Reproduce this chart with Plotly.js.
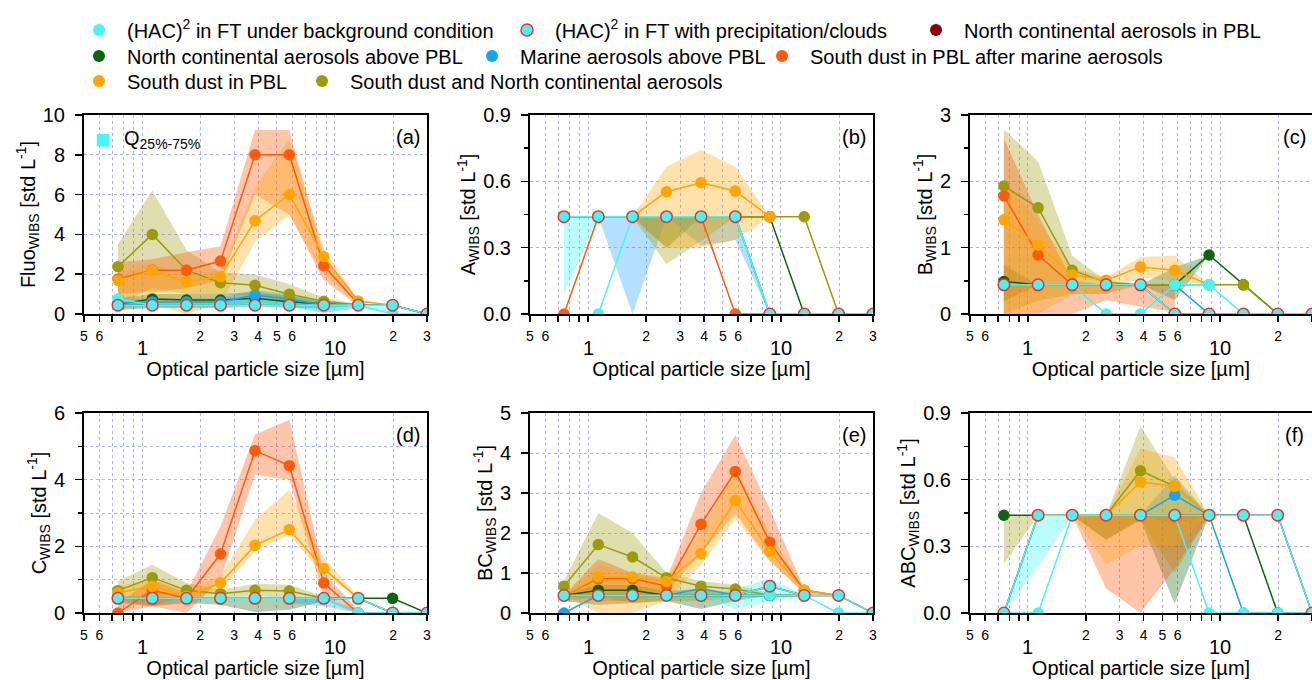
<!DOCTYPE html>
<html><head><meta charset="utf-8">
<script src="https://cdn.plot.ly/plotly-3.0.1.min.js"></script>
<style>html,body{margin:0;padding:0;background:#fff}#chart{width:1312px;height:680px}</style>
</head><body><div id="chart"></div>
<script>
// ---------- shared axis data ----------
const sizes = [0.75, 1.13, 1.7, 2.55, 3.85, 5.8, 8.75, 13.2, 19.9, 30];
const tickVals = [0.5,0.6,2,3,4,5,6,20,30];
const tickText = ["5","6","2","3","4","5","6","2","3"];
const minorTickVals = [0.7,0.8,0.9,1,7,8,9,10];
const bigTicks = [1, 10];
const bigTickText = ["1", "10"];

// series keys (legend order) and names
const legendKeys = ["bg","pc","ncp","nca","mar","sdm","sd","sdn"];
const legendNames = [
  "(HAC)<sup>2</sup> in FT under background condition",
  "(HAC)<sup>2</sup> in FT with precipitation/clouds",
  "North continental aerosols in PBL",
  "North continental aerosols above PBL",
  "Marine aerosols above PBL",
  "South dust in PBL after marine aerosols",
  "South dust in PBL",
  "South dust and North continental aerosols"
];

// ---------- (a) Fluo ----------
const fluo_bg  = [0.75,0.44,0.44,0.44,0.44,0.44,0.44,0.44,0,0];
const fluo_bg_q25 = [0.35,0.3,0.3,0.3,0.35,0.3,0.05,0.3,0,null];
const fluo_bg_q75 = [0.8,0.6,0.6,0.6,0.75,0.6,0.5,0.5,0.44,null];
const fluo_pc  = [0.44,0.44,0.44,0.44,0.44,0.44,0.44,0.44,0.44,0];
const fluo_ncp = [0.44,0.44,0.44,0.44,0.44,0.44,0.44,0.44,0.44,0];
const fluo_nca = [0.5,0.75,0.7,0.7,0.79,0.62,0.5,0.44,0.44,0];
const fluo_nca_q25 = [0.2,0.3,0.3,0.3,0.4,0.3,0.3,0.4,null,null];
const fluo_nca_q75 = [0.8,1.0,1.0,1.0,1.1,0.9,0.6,0.5,null,null];
const fluo_mar = [0.55,0.6,0.6,0.6,0.95,0.75,0.44,0.44,0.44,0];
const fluo_mar_q25 = [0.3,0.35,0.35,0.35,0.6,0.4,0.05,0.3,null,null];
const fluo_mar_q75 = [0.8,0.8,0.8,0.8,1.2,1.0,0.6,0.5,null,null];
const fluo_sdm = [1.76,2.2,2.2,2.66,8.0,8.0,2.43,0.5,null,null];
const fluo_sdm_q25 = [1.0,1.1,1.3,1.7,6.0,5.0,1.7,0.4,null,null];
const fluo_sdm_q75 = [2.6,2.75,3.1,3.4,9.25,9.25,2.95,0.6,null,null];
const fluo_sd  = [1.69,2.18,1.61,1.88,4.69,6.01,2.88,0.65,0.44,null];
const fluo_sd_q25 = [0.2,0.5,0,0.5,3.6,5.0,2.0,0.6,0.44,null];
const fluo_sd_q75 = [2.0,2.5,2.0,2.2,6.4,8.8,3.3,0.7,0.44,null];
const fluo_sdn = [2.38,4.0,2.2,1.57,1.44,0.99,0.64,0.45,null,null];
const fluo_sdn_q25 = [0.5,1.3,1.0,1.0,0.9,0.5,0.45,0.4,null,null];
const fluo_sdn_q75 = [3.5,6.2,3.2,2.1,2.0,1.5,0.8,0.5,null,null];

// ---------- (b) A ----------
const a_bg  = [null,0,0.44,0.44,0.44,0.44,0,0,0,0];
const a_pc  = [0.44,0.44,0.44,0.44,0.44,0.44,0,0,0,0];
const a_pc_q25 = [0.09,0.44,null,null,null,null,null,null,null,null];
const a_pc_q75 = [0.44,0.44,null,null,null,null,null,null,null,null];
const a_ncp = [0.44,0.44,0.44,0.44,0.44,0.44,0,0,0,0];
const a_nca = [0.44,0.44,0.44,0.44,0.44,0.44,0.44,0,0,0];
const a_nca_q25 = [null,null,0.44,0.3,0.44,0.44,0.44,null,null,null];
const a_nca_q75 = [null,null,0.44,0.44,0.44,0.44,0.44,null,null,null];
const a_mar = [null,0.44,0.44,0.44,0.44,0.44,0,0,0,0];
const a_mar_q25 = [null,0.44,0,0.44,0.31,0.335,0,null,null,null];
const a_mar_q75 = [null,0.44,0.44,0.44,0.44,0.44,0,null,null,null];
const a_sdm = [0,0.44,0.44,0.44,0.44,0,0,0,0,0];
const a_sd  = [0.44,0.44,0.44,0.553,0.594,0.556,0.44,null,null,null];
const a_sd_q25 = [null,null,0.44,0.3,0.3,0.335,0.44,null,null,null];
const a_sd_q75 = [null,null,0.44,0.666,0.742,0.666,0.44,null,null,null];
const a_sdn = [0.44,0.44,0.44,0.44,0.44,0.44,0.44,0.44,0,0];
const a_sdn_q25 = [null,null,0.44,0.226,0.33,0.44,0.44,null,null,null];
const a_sdn_q75 = [null,null,0.44,0.44,0.44,0.44,0.44,null,null,null];

// ---------- (c) B ----------
const b_bg  = [0.44,0.44,0.44,0,0,0.44,0.44,0,0,0];
const b_pc  = [0.44,0.44,0.44,0.44,0.44,0,0,0,0,0];
const b_ncp = [0.44,0.44,0.44,0.44,0.44,0,0,0,0,0];
const b_nca = [0.49,0.44,0.44,0.44,0.44,0.44,0.89,0.44,0,0];
const b_nca_q25 = [0.19,0.44,0.44,0.44,0.44,0.21,0.89,null,null,null];
const b_nca_q75 = [0.74,0.44,0.44,0.44,0.44,0.7,0.89,null,null,null];
const b_mar = [0.44,0.44,0.44,0.44,0.44,0.44,0,0,0,0];
const b_sdm = [1.78,0.89,0.44,0.44,0.44,0,0,0,0,0];
const b_sdm_q25 = [0,0,0,0.21,0.11,0.035,null,null,null,null];
const b_sdm_q75 = [2.65,1.5,0.5,0.44,0.44,0.44,null,null,null,null];
const b_sd  = [1.42,1.04,0.59,0.51,0.71,0.66,0.44,null,null,null];
const b_sd_q25 = [0,0,0.3,0.3,0.55,0.5,0.44,null,null,null];
const b_sd_q75 = [2.0,1.4,0.7,0.55,0.86,0.88,0.44,null,null,null];
const b_sdn = [1.93,1.6,0.66,0.48,0.44,0.44,0.44,0.44,0,0];
const b_sdn_q25 = [0,0.2,0.3,0.3,0.44,0.44,0.44,null,null,null];
const b_sdn_q75 = [2.78,2.3,0.88,0.5,0.44,0.44,0.44,null,null,null];

// ---------- (d) C ----------
const c_bg  = [0.44,0.44,0.44,0.44,0.44,0.44,0.44,0,0,0];
const c_pc  = [0.44,0.44,0.44,0.44,0.44,0.44,0.44,0.44,0,0];
const c_ncp = [0.44,0.44,0.44,0.44,0.44,0.44,0.44,0.44,0,0];
const c_nca = [0.44,0.44,0.44,0.44,0.44,0.44,0.44,0.44,0.44,0];
const c_nca_q25 = [0.3,0.2,0.3,0.25,0.03,0.1,0.35,0.44,null,null];
const c_nca_q75 = [0.5,0.5,0.44,0.44,0.44,0.44,0.44,0.44,null,null];
const c_mar = [0.44,0.44,0.44,0.44,0.44,0.44,0.44,0,0,0];
const c_mar_q25 = [null,null,null,null,null,0.3,0.2,0,null,null];
const c_mar_q75 = [null,null,null,null,null,0.44,0.44,0.1,null,null];
const c_sdm = [0,0.68,0.44,1.77,4.87,4.42,0.9,0,null,null];
const c_sdm_q25 = [0,0.2,0,1.0,4.15,4.0,0.5,0,null,null];
const c_sdm_q75 = [0.3,1.0,0.6,2.6,5.35,5.8,1.2,0.1,null,null];
const c_sd  = [0.6,0.8,0.5,0.9,2.03,2.5,1.33,0.44,null,null];
const c_sd_q25 = [0.4,0.5,0.4,0.7,1.85,2.35,1.15,0.44,null,null];
const c_sd_q75 = [0.8,1.0,0.7,1.1,2.8,3.7,1.65,0.5,null,null];
const c_sdn = [0.67,1.06,0.68,0.58,0.68,0.66,0.44,null,null,null];
const c_sdn_q25 = [0.4,0.2,0.5,0.45,0.5,0.45,0.4,null,null,null];
const c_sdn_q75 = [0.95,1.45,0.9,0.7,0.88,0.85,0.5,null,null,null];

// ---------- (e) BC ----------
const bc_bg  = [0.44,0.44,0.44,0.44,0.44,0.44,0.45,0.44,0,0];
const bc_bg_q25 = [null,null,null,null,0.44,0.1,0.3,0.44,null,null];
const bc_bg_q75 = [null,null,null,null,0.44,0.6,0.87,0.44,null,null];
const bc_pc  = [0.44,0.44,0.44,0.44,0.44,0.44,0.67,0.44,0.44,0];
const bc_ncp = [0.44,0.44,0.44,0.44,0.44,0.44,0.67,0.44,0.44,0];
const bc_nca = [0.44,0.57,0.57,0.44,0.44,0.44,0.44,0.44,null,null];
const bc_nca_q25 = [0.3,0.2,0.25,0.3,0.1,0.3,0.44,null,null,null];
const bc_nca_q75 = [0.5,0.7,0.7,0.55,0.6,0.5,0.44,null,null,null];
const bc_mar = [0,0.44,0.44,0.44,0.61,0.44,0.44,0.44,null,null];
const bc_sdm = [0.44,0.86,0.86,0.67,2.22,3.54,1.77,0.57,0.44,null];
const bc_sdm_q25 = [0.44,0.3,0.3,0.5,1.5,2.5,1.3,0.5,0.44,null];
const bc_sdm_q75 = [0.44,1.35,1.0,0.85,3.0,4.45,2.6,0.6,0.44,null];
const bc_sd  = [0.44,0.9,0.9,0.79,1.48,2.81,1.54,0.57,0.44,null];
const bc_sd_q25 = [0.44,0,0,0.3,1.2,2.35,1.3,0.5,0.44,null];
const bc_sd_q75 = [0.44,1.2,1.0,0.9,2.0,3.6,2.0,0.6,0.44,null];
const bc_sdn = [0.67,1.71,1.4,0.88,0.67,0.6,0.44,0.44,null,null];
const bc_sdn_q25 = [0.3,0.4,0.25,0.3,0.3,0.4,0.4,0.44,null,null];
const bc_sdn_q75 = [0.8,2.5,2.0,1.0,0.8,0.7,0.5,0.44,null,null];

// ---------- (f) ABC ----------
const abc_bg  = [0,0,0.44,0.44,0.44,0.44,0,0,0,0];
const abc_pc  = [0,0.44,0.44,0.44,0.44,0.44,0.44,0.44,0.44,0];
const abc_pc_q25 = [0,0.21,0.44,null,null,null,null,null,null,null];
const abc_pc_q75 = [0.015,0.44,0.44,null,null,null,null,null,null,null];
const abc_ncp = [0,0.44,0.44,0.44,0.44,0.44,0.44,0.44,0.44,0];
const abc_nca = [0.44,0.44,0.44,0.44,0.44,0.44,0.44,0.44,0,0];
const abc_nca_q25 = [null,null,0.44,0.33,0.42,0.04,0.44,null,null,null];
const abc_nca_q75 = [null,null,0.44,0.44,0.44,0.44,0.44,null,null,null];
const abc_mar = [null,null,0.44,0.44,0.44,0.53,0.44,0,0,0];
const abc_mar_q25 = [null,null,null,null,0.44,0.4,0.44,null,null,null];
const abc_mar_q75 = [null,null,null,null,0.44,0.62,0.44,null,null,null];
const abc_sdm = [null,0.44,0.44,0.44,0.44,0.44,0.44,null,null,null];
const abc_sdm_q25 = [null,null,0.44,0.11,0,0.2,0.44,null,null,null];
const abc_sdm_q75 = [null,null,0.44,0.44,0.44,0.44,0.44,null,null,null];
const abc_sd  = [null,0.44,0.44,0.44,0.59,0.57,0.44,null,null,null];
const abc_sd_q25 = [null,null,0.44,0.22,0.3,0.3,0.44,null,null,null];
const abc_sd_q75 = [null,null,0.44,0.44,0.74,0.7,0.44,null,null,null];
const abc_sdn = [null,0.44,0.44,0.44,0.64,0.57,0.44,null,null,null];
const abc_sdn_q25 = [0.22,0.44,0.44,0.33,0.42,0.18,0.44,null,null,null];
const abc_sdn_q75 = [0.44,0.44,0.44,0.44,0.84,0.6,0.44,null,null,null];

// ---------- panel meta ----------
const panelLabels = ["(a)","(b)","(c)","(d)","(e)","(f)"];
const yTitles = [
  "Fluo<sub>WIBS</sub> [std L<sup>-1</sup>]",
  "A<sub>WIBS</sub> [std L<sup>-1</sup>]",
  "B<sub>WIBS</sub> [std L<sup>-1</sup>]",
  "C<sub>WIBS</sub> [std L<sup>-1</sup>]",
  "BC<sub>WIBS</sub> [std L<sup>-1</sup>]",
  "ABC<sub>WIBS</sub> [std L<sup>-1</sup>]"
];
const yRanges = [[0,10],[0,0.9],[0,3],[0,6],[0,5],[0,0.9]];
const yDticks = [2,0.3,1,2,1,0.3];
const yMinorDticks = [null,0.15,0.5,1,null,0.15];
const yFormats = ["",".1f","","","",".1f"];

const panelData = [
  {bg:[fluo_bg,fluo_bg_q25,fluo_bg_q75], pc:[fluo_pc], ncp:[fluo_ncp], nca:[fluo_nca,fluo_nca_q25,fluo_nca_q75], mar:[fluo_mar,fluo_mar_q25,fluo_mar_q75], sdm:[fluo_sdm,fluo_sdm_q25,fluo_sdm_q75], sd:[fluo_sd,fluo_sd_q25,fluo_sd_q75], sdn:[fluo_sdn,fluo_sdn_q25,fluo_sdn_q75]},
  {bg:[a_bg], pc:[a_pc,a_pc_q25,a_pc_q75], ncp:[a_ncp], nca:[a_nca,a_nca_q25,a_nca_q75], mar:[a_mar,a_mar_q25,a_mar_q75], sdm:[a_sdm], sd:[a_sd,a_sd_q25,a_sd_q75], sdn:[a_sdn,a_sdn_q25,a_sdn_q75]},
  {bg:[b_bg], pc:[b_pc], ncp:[b_ncp], nca:[b_nca,b_nca_q25,b_nca_q75], mar:[b_mar], sdm:[b_sdm,b_sdm_q25,b_sdm_q75], sd:[b_sd,b_sd_q25,b_sd_q75], sdn:[b_sdn,b_sdn_q25,b_sdn_q75]},
  {bg:[c_bg], pc:[c_pc], ncp:[c_ncp], nca:[c_nca,c_nca_q25,c_nca_q75], mar:[c_mar,c_mar_q25,c_mar_q75], sdm:[c_sdm,c_sdm_q25,c_sdm_q75], sd:[c_sd,c_sd_q25,c_sd_q75], sdn:[c_sdn,c_sdn_q25,c_sdn_q75]},
  {bg:[bc_bg,bc_bg_q25,bc_bg_q75], pc:[bc_pc], ncp:[bc_ncp], nca:[bc_nca,bc_nca_q25,bc_nca_q75], mar:[bc_mar], sdm:[bc_sdm,bc_sdm_q25,bc_sdm_q75], sd:[bc_sd,bc_sd_q25,bc_sd_q75], sdn:[bc_sdn,bc_sdn_q25,bc_sdn_q75]},
  {bg:[abc_bg], pc:[abc_pc,abc_pc_q25,abc_pc_q75], ncp:[abc_ncp], nca:[abc_nca,abc_nca_q25,abc_nca_q75], mar:[abc_mar,abc_mar_q25,abc_mar_q75], sdm:[abc_sdm,abc_sdm_q25,abc_sdm_q75], sd:[abc_sd,abc_sd_q25,abc_sd_q75], sdn:[abc_sdn,abc_sdn_q25,abc_sdn_q75]}
];

// ---------- styles ----------
const lineColor = {bg:"#44F6F6", pc:"#44F6F6", ncp:"#8B0000", nca:"#0B640F", mar:"#12A6F5", sdm:"#FF5A0A", sd:"#FFA500", sdn:"#9C9C08"};
const bandColor = {bg:"rgba(60,245,245,0.35)", pc:"rgba(60,245,245,0.35)", ncp:"rgba(139,0,0,0.3)", nca:"rgba(11,100,15,0.32)", mar:"rgba(18,160,245,0.32)", sdm:"rgba(255,90,10,0.35)", sd:"rgba(255,165,0,0.33)", sdn:"rgba(156,156,8,0.33)"};
const drawOrder = ["ncp","nca","mar","sdn","sdm","sd","bg","pc"];
const FONT = "Liberation Sans, Arial, sans-serif";
const W = 1312, H = 680;
const colPx = [[84,427],[530,873],[970,1312]];
const rowPx = [[115,314],[413,613]];
const legendMarkerX = [99,527,936,99,492,782,99,322];
const legendRowY = [30,30,30,56,56,56,81,81];
const GRID = "rgba(110,110,255,0.55)";

function suf(i){ return i===0 ? "" : String(i+1); }

const traces = [];
// quartile bands
panelData.forEach((pd, i) => {
  drawOrder.forEach(k => {
    const d = pd[k];
    if (!d || d.length < 3) return;
    const lo = d[1], hi = d[2], xs = [], ys = [];
    const idx = sizes.map((_, j) => j).filter(j => lo[j] != null && hi[j] != null);
    idx.forEach(j => { xs.push(sizes[j]); ys.push(hi[j]); });
    idx.slice().reverse().forEach(j => { xs.push(sizes[j]); ys.push(lo[j]); });
    traces.push({x: xs, y: ys, xaxis: "x"+suf(i), yaxis: "y"+suf(i), type: "scatter", mode: "lines",
      fill: "toself", fillcolor: bandColor[k], line: {width: 0}, hoverinfo: "skip", showlegend: false});
  });
});
// medians
panelData.forEach((pd, i) => {
  drawOrder.forEach(k => {
    const d = pd[k];
    traces.push({x: sizes, y: d[0], xaxis: "x"+suf(i), yaxis: "y"+suf(i), type: "scatter", mode: "lines+markers",
      name: legendNames[legendKeys.indexOf(k)], showlegend: false,
      line: {color: lineColor[k], width: 1.5},
      marker: {size: 11.5, color: lineColor[k], line: {color: k === "pc" ? "#FF2A2A" : lineColor[k], width: k === "pc" ? 1.5 : 0}}});
  });
});
// legend entries (marker only)
legendKeys.forEach((k, n) => {
  traces.push({x: [null], y: [null], type: "scatter", mode: "markers", name: legendNames[n],
    legend: n === 0 ? "legend" : "legend" + (n+1), showlegend: true,
    marker: {size: 12, color: lineColor[k], line: {color: k === "pc" ? "#FF2A2A" : lineColor[k], width: k === "pc" ? 1.5 : 0}}});
});

const layout = {
  width: W, height: H, margin: {l:0, r:0, t:0, b:0},
  paper_bgcolor: "#fff", plot_bgcolor: "#fff",
  font: {family: FONT, color: "#000", size: 19},
  annotations: [], showlegend: true
};

for (let i = 0; i < 6; i++) {
  const c = colPx[i % 3], r = rowPx[Math.floor(i / 3)];
  const xd = [c[0]/W, Math.min(1, c[1]/W)];
  const yd = [1 - r[1]/H, 1 - r[0]/H];
  layout["xaxis"+suf(i)] = {
    type: "log", domain: xd, anchor: "y"+suf(i), range: [Math.log10(0.5), Math.log10(30)],
    tickmode: "array", tickvals: tickVals, ticktext: tickText,
    ticks: "outside", ticklen: 6, tickwidth: 1.5, tickcolor: "#000",
    tickfont: {size: 14, family: FONT}, ticklabelstandoff: 2,
    minor: {tickmode: "array", tickvals: minorTickVals, ticks: "outside", ticklen: 6, tickwidth: 1.5, tickcolor: "#000",
      showgrid: true, gridcolor: GRID, griddash: "dot", gridwidth: 1},
    showline: true, linewidth: 2, linecolor: "#000", mirror: true,
    showgrid: true, gridcolor: GRID, griddash: "dot", gridwidth: 1,
    zeroline: false, fixedrange: true,
    title: {text: "Optical particle size [µm]", font: {size: 20, family: FONT}, standoff: 19}
  };
  const ya = {
    domain: yd, anchor: "x"+suf(i), range: yRanges[i], dtick: yDticks[i], tick0: 0,
    tickformat: yFormats[i], ticks: "outside", ticklen: 7, tickwidth: 1.5, tickcolor: "#000",
    tickfont: {size: 20, family: FONT}, ticklabelstandoff: 6,
    showline: true, linewidth: 2, linecolor: "#000", mirror: true,
    showgrid: true, gridcolor: GRID, griddash: "dot", gridwidth: 1,
    zeroline: false, fixedrange: true,
    title: {text: yTitles[i], font: {size: 20, family: FONT}, standoff: 2}
  };
  if (yMinorDticks[i] != null) {
    ya.minor = {dtick: yMinorDticks[i], tick0: 0, ticks: "outside", ticklen: 4, tickwidth: 1.5, tickcolor: "#000",
      showgrid: i === 3, gridcolor: GRID, griddash: "dot", gridwidth: 1};
  }
  layout["yaxis"+suf(i)] = ya;
  // decade labels (1, 10)
  bigTicks.forEach((v, n) => {
    layout.annotations.push({x: Math.log10(v), xref: "x"+suf(i), y: 1 - (r[1] + 34)/H, yref: "paper",
      text: bigTickText[n], showarrow: false, xanchor: "center", yanchor: "middle", font: {size: 20, family: FONT}});
  });
  // panel label
  layout.annotations.push({x: (c[0] + 324)/W, y: 1 - (r[0] + 22)/H, xref: "paper", yref: "paper",
    text: panelLabels[i], showarrow: false, xanchor: "center", yanchor: "middle", font: {size: 20, family: FONT}});
}
// Q25-75 legend in panel (a)
layout.annotations.push({x: 103/W, y: 1 - 139/H, xref: "paper", yref: "paper", text: "■", showarrow: false,
  xanchor: "center", yanchor: "middle", font: {size: 26, color: "#40FAFA"}});
layout.annotations.push({x: 122/W, y: 1 - 140/H, xref: "paper", yref: "paper", text: "Q<sub>25%-75%</sub>", showarrow: false,
  xanchor: "left", yanchor: "middle", font: {size: 20, family: FONT}});

// legends (one per entry to keep the original layout)
legendKeys.forEach((k, n) => {
  const key = n === 0 ? "legend" : "legend" + (n+1);
  layout[key] = {x: (legendMarkerX[n] - 28)/W, y: 1 - legendRowY[n]/H, xanchor: "left", yanchor: "middle",
    orientation: "h", bgcolor: "rgba(0,0,0,0)", borderwidth: 0, font: {size: 20, family: FONT}, itemwidth: 46};
});

Plotly.newPlot("chart", traces, layout, {displayModeBar: false, staticPlot: true});
</script>
</body></html>
